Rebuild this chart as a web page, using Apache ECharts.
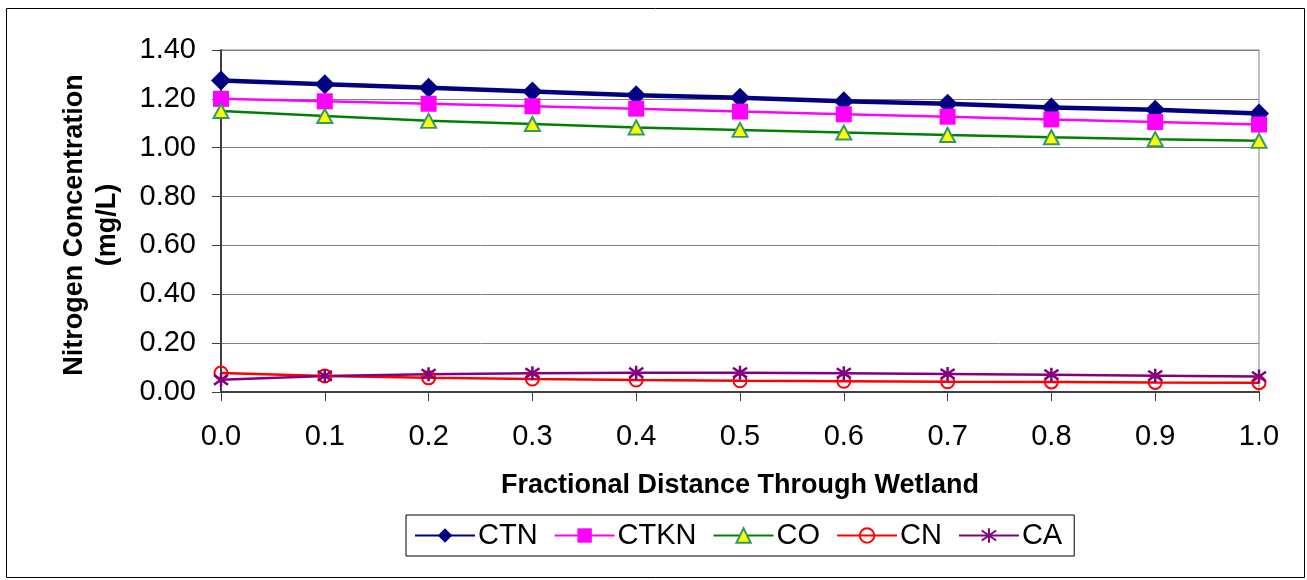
<!DOCTYPE html>
<html>
<head>
<meta charset="utf-8">
<script src="https://cdn.jsdelivr.net/npm/echarts@6/dist/echarts.min.js"></script>
<style>
html,body{margin:0;padding:0;background:#fff;}
#chart{width:1307px;height:580px;}
</style>
</head>
<body>
<div id="chart"></div>
<script>
const categories = ['0.0','0.1','0.2','0.3','0.4','0.5','0.6','0.7','0.8','0.9','1.0'];
const CTN  = [1.275,1.26,1.245,1.23,1.215,1.205,1.19,1.18,1.165,1.155,1.14];
const CTKN = [1.20,1.19,1.18,1.17,1.16,1.148,1.137,1.127,1.116,1.105,1.095];
const CO   = [1.15,1.13,1.11,1.097,1.083,1.073,1.062,1.052,1.043,1.035,1.028];
const CN   = [0.078,0.066,0.058,0.053,0.049,0.046,0.044,0.042,0.041,0.039,0.038];
const CA   = [0.05,0.066,0.073,0.077,0.079,0.079,0.077,0.074,0.071,0.067,0.063];
const yTicks = {min:0, max:1.4, interval:0.2};
const xTitle = 'Fractional Distance Through Wetland';
const yTitle = 'Nitrogen Concentration\n(mg/L)';

const FONT = "'Liberation Sans', Arial, sans-serif";
const chart = echarts.init(document.getElementById('chart'), null, {renderer:'canvas'});
const asterisk = 'path://M5,0 L5,10 M0.7,1.5 L9.3,8.5 M9.3,1.5 L0.7,8.5';

chart.setOption({
  animation:false,
  backgroundColor:'#fff',
  textStyle:{fontFamily:FONT},
  grid:{left:221,right:48,top:50,bottom:188,show:true,borderColor:'#808080',borderWidth:1,containLabel:false},
  xAxis:{
    type:'category', data:categories, boundaryGap:false,
    axisLine:{lineStyle:{color:'#404040',width:2}},
    axisTick:{show:true,length:9,lineStyle:{color:'#404040',width:1}},
    axisLabel:{color:'#000',fontSize:29,fontFamily:FONT,margin:30},
    splitLine:{show:false},
    name:xTitle, nameLocation:'middle', nameGap:80,
    nameTextStyle:{color:'#000',fontSize:27,fontWeight:'bold',fontFamily:FONT}
  },
  yAxis:{
    type:'value', min:yTicks.min, max:yTicks.max, interval:yTicks.interval,
    axisLine:{show:true,lineStyle:{color:'#404040',width:2}},
    axisTick:{show:true,length:9,lineStyle:{color:'#404040',width:1}},
    axisLabel:{color:'#000',fontSize:29,fontFamily:FONT,margin:25,formatter:v=>v.toFixed(2)},
    splitLine:{show:true,lineStyle:{color:'#808080',width:1}}
  },
  graphic:[
    {type:'rect',shape:{x:6.5,y:8.5,width:1298,height:569},style:{fill:'none',stroke:'#000',lineWidth:1},silent:true,z:-1},
    {type:'text',x:91,y:225,rotation:Math.PI/2,style:{text:yTitle,fill:'#000',font:"bold 27px 'Liberation Sans', Arial, sans-serif",align:'center',verticalAlign:'middle',lineHeight:33}}
  ],
  legend:{
    left:406, top:515,
    padding:[6,12,6,8],
    borderColor:'#000', borderWidth:1,
    itemWidth:60, itemHeight:18, itemGap:16,
    textStyle:{color:'#000',fontSize:29,fontFamily:FONT,padding:[0,0,0,-2]},
    data:['CTN','CTKN','CO','CN','CA']
  },
  series:[
    {name:'CTN',type:'line',data:CTN,symbol:'diamond',symbolSize:[20,20],
     lineStyle:{color:'#000080',width:4.5},itemStyle:{color:'#000080'}},
    {name:'CTKN',type:'line',data:CTKN,symbol:'rect',symbolSize:16,
     lineStyle:{color:'#FF00FF',width:2.5},itemStyle:{color:'#FF00FF'}},
    {name:'CO',type:'line',data:CO,symbol:'triangle',symbolSize:[15,14],
     lineStyle:{color:'#008000',width:2.5},itemStyle:{color:'#FFFF00',borderColor:'#339966',borderWidth:2}},
    {name:'CN',type:'line',data:CN,symbol:'circle',symbolSize:13,
     lineStyle:{color:'#FF0000',width:2.5},itemStyle:{color:'rgba(255,255,255,0)',borderColor:'#FF0000',borderWidth:2}},
    {name:'CA',type:'line',data:CA,symbol:asterisk,symbolSize:14,
     lineStyle:{color:'#800080',width:2.5},itemStyle:{color:'rgba(0,0,0,0)',borderColor:'#800080',borderWidth:2.5}}
  ]
});
</script>
</body>
</html>
